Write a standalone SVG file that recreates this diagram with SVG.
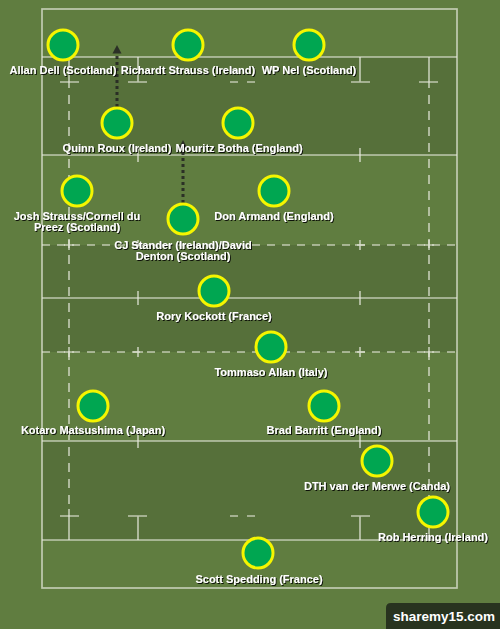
<svg xmlns="http://www.w3.org/2000/svg" width="500" height="629" viewBox="0 0 500 629">
<defs>
<style>
.ln{stroke:#e6e9dc;stroke-opacity:0.72;stroke-width:1.7;fill:none}
.dh{stroke-dasharray:8 7}
.dv{stroke-dasharray:9 7}
.pc{fill:#00a651;stroke:#f5f500;stroke-width:3}
.lb{font-family:"Liberation Sans",Arial,sans-serif;font-size:11px;font-weight:bold;fill:#ffffff;text-anchor:middle;filter:url(#sh)}
.ar{stroke:#222;stroke-opacity:0.85;stroke-width:3;stroke-dasharray:3 3;fill:none}
</style>
<filter id="sh" x="-10%" y="-30%" width="120%" height="160%">
<feDropShadow dx="1" dy="1" stdDeviation="0.7" flood-color="#000" flood-opacity="0.85"/>
</filter>
</defs>
<rect x="0" y="0" width="500" height="629" fill="#607d40"/>
<g id="field">
<rect x="42" y="57" width="415" height="98" fill="#56703a"/>
<rect x="42" y="245" width="415" height="107" fill="#56703a"/>
<rect x="42" y="441" width="415" height="99" fill="#56703a"/>
<rect x="42" y="9" width="415" height="579" class="ln"/>
<line x1="42" y1="57" x2="457" y2="57" class="ln"/>
<line x1="42" y1="155" x2="457" y2="155" class="ln"/>
<line x1="42" y1="298" x2="457" y2="298" class="ln"/>
<line x1="42" y1="441" x2="457" y2="441" class="ln"/>
<line x1="42" y1="540" x2="457" y2="540" class="ln"/>
<line x1="42" y1="245" x2="457" y2="245" class="ln dh"/>
<line x1="42" y1="352" x2="457" y2="352" class="ln dh"/>
<line x1="69" y1="57" x2="69" y2="88" class="ln"/>
<line x1="69" y1="95" x2="69" y2="505" class="ln dv"/>
<line x1="69" y1="509" x2="69" y2="540" class="ln"/>
<line x1="429" y1="57" x2="429" y2="88" class="ln"/>
<line x1="429" y1="95" x2="429" y2="505" class="ln dv"/>
<line x1="429" y1="509" x2="429" y2="540" class="ln"/>
<path class="ln" d="M60,82H79M419,82H438M60,516H79M419,516H438"/>
<path class="ln" d="M138,57V82M128,82H147M360,57V82M351,82H370"/>
<path class="ln" d="M138,540V516M128,516H147M360,540V516M351,516H370"/>
<path class="ln" d="M230,82H238M247,82H255M230,516H238M247,516H255"/>
<path class="ln" d="M138,148V162M360,148V162M138,291V305M360,291V305M138,434V448M360,434V448"/>
<path class="ln" d="M138,240V250M133,245H143M360,240V250M355,245H365M69,240V250M64,245H74M429,240V250M424,245H434"/>
<path class="ln" d="M138,347V357M133,352H143M360,347V357M355,352H365M69,347V357M64,352H74M429,347V357M424,352H434"/>
</g>
<g id="connectors">
<line x1="117" y1="107" x2="117" y2="53" class="ar"/>
<path d="M117,45 L121.5,53.5 L112.5,53.5 Z" fill="#222" fill-opacity="0.85"/>
<line x1="183" y1="203" x2="183" y2="148" class="ar"/>
<path d="M183,140 L187.5,148.5 L178.5,148.5 Z" fill="#222" fill-opacity="0.85"/>
</g>
<g id="allan-dell"><circle cx="63" cy="45" r="15" class="pc"/><text x="63" y="74" class="lb">Allan Dell (Scotland)</text></g>
<g id="richardt-strauss"><circle cx="188" cy="45" r="15" class="pc"/><text x="188" y="74" class="lb">Richardt Strauss (Ireland)</text></g>
<g id="wp-nel"><circle cx="309" cy="45" r="15" class="pc"/><text x="309" y="74" class="lb">WP Nel (Scotland)</text></g>
<g id="quinn-roux"><circle cx="117" cy="123" r="15" class="pc"/><text x="117" y="152" class="lb">Quinn Roux (Ireland)</text></g>
<g id="mouritz-botha"><circle cx="238" cy="123" r="15" class="pc"/><text x="239" y="152" class="lb">Mouritz Botha (England)</text></g>
<g id="josh-strauss"><circle cx="77" cy="191" r="15" class="pc"/><text x="77" y="220" class="lb">Josh Strauss/Cornell du</text><text x="77" y="231" class="lb">Preez (Scotland)</text></g>
<g id="cj-stander"><circle cx="183" cy="219" r="15" class="pc"/><text x="183" y="249" class="lb">CJ Stander (Ireland)/David</text><text x="183" y="260" class="lb">Denton (Scotland)</text></g>
<g id="don-armand"><circle cx="274" cy="191" r="15" class="pc"/><text x="274" y="220" class="lb">Don Armand (England)</text></g>
<g id="rory-kockott"><circle cx="214" cy="291" r="15" class="pc"/><text x="214" y="320" class="lb">Rory Kockott (France)</text></g>
<g id="tommaso-allan"><circle cx="271" cy="347" r="15" class="pc"/><text x="271" y="376" class="lb">Tommaso Allan (Italy)</text></g>
<g id="kotaro-matsushima"><circle cx="93" cy="406" r="15" class="pc"/><text x="93" y="434" class="lb">Kotaro Matsushima (Japan)</text></g>
<g id="brad-barritt"><circle cx="324" cy="406" r="15" class="pc"/><text x="324" y="434" class="lb">Brad Barritt (England)</text></g>
<g id="dth-van-der-merwe"><circle cx="377" cy="461" r="15" class="pc"/><text x="377" y="490" class="lb">DTH van der Merwe (Canda)</text></g>
<g id="rob-herring"><circle cx="433" cy="512" r="15" class="pc"/><text x="433" y="541" class="lb">Rob Herring (Ireland)</text></g>
<g id="scott-spedding"><circle cx="258" cy="553" r="15" class="pc"/><text x="259" y="583" class="lb">Scott Spedding (France)</text></g>
<g id="watermark">
<path d="M391,603 H500 V629 H386 V608 Q386,603 391,603 Z" fill="#28331f"/>
<text x="444" y="621" font-family="'Liberation Sans',Arial,sans-serif" font-size="13.5px" font-weight="bold" fill="#ffffff" text-anchor="middle">sharemy15.com</text>
</g>
</svg>
